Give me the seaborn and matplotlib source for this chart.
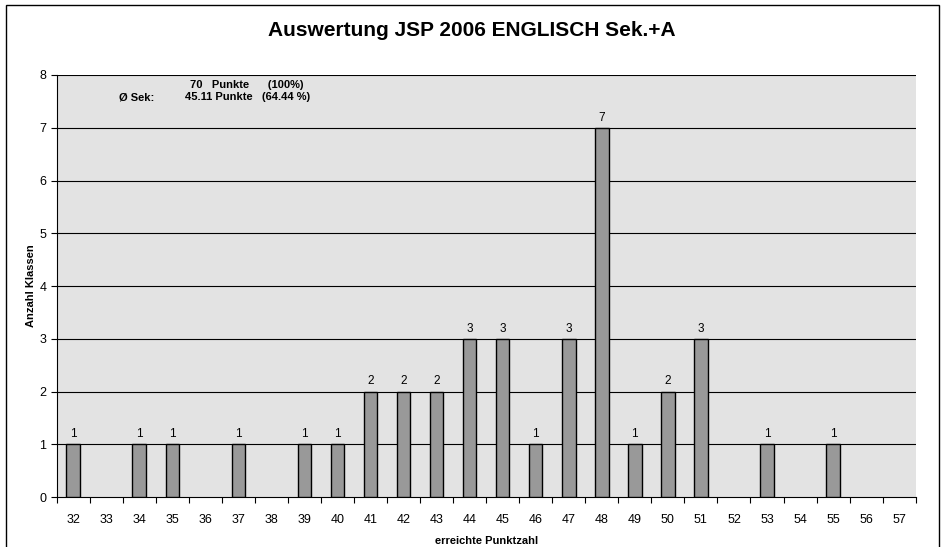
import numpy as np
import pandas as pd
import matplotlib
matplotlib.use('Agg')
import matplotlib.pyplot as plt
import seaborn as sns
from matplotlib.patches import Rectangle

# Data
punkte = [str(p) for p in range(32, 58)]
anzahl = [1, 0, 1, 1, 0, 1, 0, 1, 1, 2, 2, 2, 3, 3, 1, 3, 7, 1, 2, 3, 0, 1, 0, 1, 0, 0]

title = 'Auswertung JSP 2006 ENGLISCH Sek.+A'
xlabel = 'erreichte Punktzahl'
ylabel = 'Anzahl Klassen'

sns.set_style('white')
plt.rcParams['font.family'] = ['Liberation Sans', 'DejaVu Sans']
plt.rcParams['text.color'] = 'black'
plt.rcParams['axes.labelcolor'] = 'black'
plt.rcParams['xtick.color'] = 'black'
plt.rcParams['ytick.color'] = 'black'

df = pd.DataFrame({'Punkte': punkte, 'Anzahl': anzahl})
# empty classes get no bar at all (no flat outline)
df['Balken'] = df['Anzahl'].replace(0, np.nan)

fig = plt.figure(figsize=(9.44, 5.47), dpi=100)
ax = fig.add_axes([0.060, 0.091, 0.910, 0.772])
ax.set_facecolor('#e3e3e3')

sns.barplot(data=df, x='Punkte', y='Balken', color='#999999', width=0.41,
            edgecolor='black', linewidth=1.0, saturation=1, ax=ax, zorder=3)

ax.set_ylim(0, 8)
ax.set_xlim(-0.5, len(punkte) - 0.5)
ax.set_yticks(range(0, 9))
for y in range(1, 9):
    ax.axhline(y, color='black', lw=0.8, zorder=1)

# ticks sit between categories, labels in the middle
ax.set_xticks(np.arange(-0.5, len(punkte)), minor=True)
ax.tick_params(axis='x', which='minor', bottom=True, length=4, direction='out', width=0.8)
ax.tick_params(axis='x', which='major', bottom=True, length=0, labelsize=9, pad=12)
ax.tick_params(axis='y', left=True, length=4, direction='out', width=0.8, labelsize=9)
for s in ['top', 'right']:
    ax.spines[s].set_visible(False)
for s in ['left', 'bottom']:
    ax.spines[s].set_color('black')
    ax.spines[s].set_linewidth(0.8)

ax.set_xlabel(xlabel, fontsize=8, fontweight='bold', labelpad=7)
ax.set_ylabel(ylabel, fontsize=8, fontweight='bold', labelpad=2)

for i, v in enumerate(anzahl):
    if v > 0:
        ax.text(i, v + 0.08, str(v), ha='center', va='bottom', fontsize=8.5)

fig.text(0.5, 0.945, title, ha='center', va='center', fontsize=15, fontweight='bold')
fig.text(0.201, 0.845, '70   Punkte      (100%)', ha='left', va='center',
         fontsize=8, fontweight='bold')
fig.text(0.126, 0.822, 'Ø Sek:', ha='left', va='center', fontsize=8, fontweight='bold')
fig.text(0.196, 0.822, '45.11 Punkte   (64.44 %)', ha='left', va='center',
         fontsize=8, fontweight='bold')

fig.patches.append(Rectangle((0.006, -0.01), 0.989, 1.0, transform=fig.transFigure,
                             fill=False, edgecolor='black', lw=1.0))

fig.savefig('out.png', dpi=100)
